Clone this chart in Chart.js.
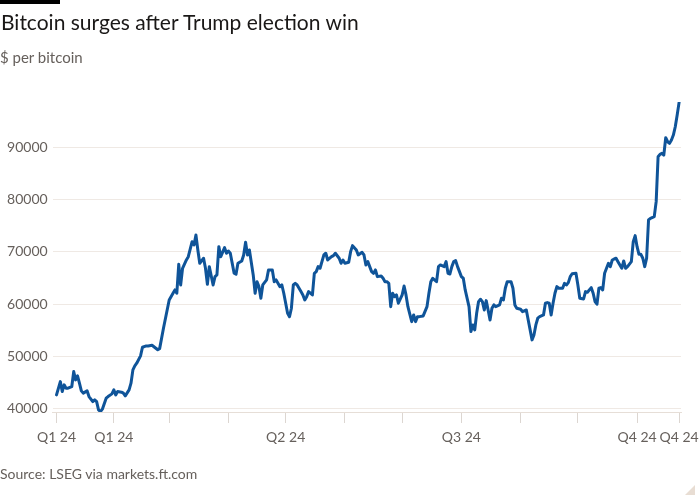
<!DOCTYPE html>
<html>
<head>
<meta charset="utf-8">
<script src="https://cdn.jsdelivr.net/npm/chart.js@4.4.0/dist/chart.umd.min.js"></script>
<style>
    body { margin: 0; background: #ffffff; }
    #wrap { position: relative; width: 700px; height: 500px; overflow: hidden; font-family: 'Lato', sans-serif; }
    #wrap canvas { position: absolute; left: 0; top: 0; }
    .bar { position: absolute; left: 0; top: 0; width: 60px; height: 4px; background: #000; }
    .title { position: absolute; left: 1px; top: 9px; font-size: 21px; line-height: 26px; color: #1a1817; white-space: nowrap; }
    .subtitle { position: absolute; left: 0; top: 47px; font-size: 15px; line-height: 20px; color: #66605c; }
    .source { position: absolute; left: 0; top: 465px; font-size: 14px; line-height: 18px; color: #66605c; }
    .curl { position: absolute; right: 5px; bottom: 5px; width: 0; height: 0; border-left: 10px solid transparent; border-bottom: 10px solid #e8ddd3; }
</style>
</head>
<body>
<div id="wrap">
    <canvas id="btcChart" width="700" height="500"></canvas>
    <div class="bar"></div>
    <div class="title">Bitcoin surges after Trump election win</div>
    <div class="subtitle">$ per bitcoin</div>
    <div class="source">Source: LSEG via markets.ft.com</div>
    <div class="curl"></div>
</div>
<script>
// day of 2024 (1 Jan = 0) and closing price in $
const days = [1, 3, 4, 5, 6, 7, 9, 10, 11, 12, 13, 14, 15, 17, 18, 20, 21, 22, 23, 24, 25, 27, 28, 30, 31, 32, 33, 35, 36, 37, 39, 40,
    41, 42, 43, 45, 46, 48, 49, 51, 53, 54, 55, 57, 60, 62, 63, 64, 65, 66, 67, 69, 70, 72, 73, 74, 75, 76, 78, 79, 80,
    81, 83, 84, 85, 86, 87, 89, 90, 91, 92, 94, 95, 96, 98, 99, 100, 101, 102, 104, 105, 106, 107, 108, 109, 111, 112,
    114, 115, 116, 118, 119, 120, 122, 123, 124, 125, 126, 127, 129, 130, 131, 132, 133, 135, 136, 137, 138, 139, 141,
    142, 143, 145, 146, 147, 149, 150, 151, 152, 154, 155, 156, 158, 159, 161, 162, 163, 164, 166, 167, 168, 169, 171,
    172, 173, 174, 175, 176, 177, 178, 179, 180, 182, 183, 184, 185, 187, 188, 189, 190, 191, 193, 195, 196, 197, 198,
    200, 201, 202, 204, 205, 206, 207, 208, 209, 210, 211, 213, 214, 215, 217, 218, 219, 220, 221, 222, 223, 224, 225,
    226, 227, 228, 229, 230, 231, 233, 234, 235, 236, 237, 239, 240, 241, 242, 244, 245, 247, 248, 249, 250, 251, 252,
    253, 254, 256, 257, 258, 259, 260, 261, 262, 263, 264, 266, 267, 268, 269, 270, 271, 273, 274, 275, 277, 278, 279,
    281, 282, 283, 284, 285, 286, 287, 288, 289, 290, 291, 292, 293, 294, 295, 296, 297, 298, 299, 300, 302, 303, 304,
    305, 306, 307, 308, 309, 310, 311, 312, 314, 315, 316, 317, 318, 319, 320, 321, 322, 323, 324, 325, 326, 327];
const prices = [42670, 45200, 43300, 44580, 43950, 43950, 44260, 47120, 45530, 46300, 44900, 43440, 43000, 43440, 42350,
    41390, 41720, 41390, 39800, 39480, 39940, 42040, 42350, 42860, 43630, 42670, 43300, 43190, 43000, 42480, 43630, 44900,
    47440, 48200, 48720, 50110, 51770, 52020, 52020, 52150, 51580, 51300, 51500, 55400, 60800, 62080, 62710, 62080, 67610,
    63660, 66850, 68430, 69060, 71930, 71300, 73200, 70340, 67800, 68760, 66850, 63800, 67160, 63660, 65250, 65570, 70980,
    69060, 70790, 69720, 70150, 69720, 65890, 65700, 67800, 68240, 69390, 71810, 69390, 70340, 65570, 62080, 64290, 63340,
    61130, 63660, 64620, 66530, 66530, 64290, 64620, 63340, 63660, 62080, 58260, 57610, 59220, 63660, 63980, 63660, 62390,
    61760, 60800, 61430, 62390, 61760, 65890, 66210, 67160, 66850, 69390, 69720, 68430, 69060, 69260, 69720, 68760, 67800,
    68430, 67800, 68000, 70020, 71170, 70340, 69390, 69900, 69390, 67480, 68110, 66210, 65890, 66530, 65250, 65380, 64940,
    64290, 64290, 63980, 59520, 62080, 61430, 61760, 60170, 61760, 63470, 61760, 59520, 56660, 57940, 56660, 57610, 57610,
    57750, 59520, 62080, 64290, 64940, 64290, 67160, 67480, 67160, 68110, 65890, 65760, 67160, 68110, 68300, 67160, 65250,
    64940, 62710, 59520, 54750, 56030, 55080, 58260, 60480, 60930, 60480, 58890, 60670, 58890, 56980, 59220, 59850, 59520,
    59850, 61130, 60800, 63030, 64290, 64290, 63030, 59850, 59220, 59030, 58570, 58890, 56980, 55080, 53170, 54120, 56030,
    57310, 57610, 57940, 60170, 60290, 60170, 57940, 60170, 62080, 63340, 63030, 63030, 63980, 63660, 64100, 65250, 65800,
    65890, 63660, 61130, 60990, 62390, 62270, 63150, 62080, 60480, 59980, 63030, 63150, 62710, 65890, 66850, 67800, 67160,
    68430, 68620, 68760, 68110, 67480, 66850, 68240, 66850, 67160, 68110, 71930, 73080, 70980, 69520, 69520, 68760, 67160,
    68760, 76070, 76390, 76700, 79570, 88150, 88610, 88800, 88470, 91780, 91010, 90700, 91340, 92290, 93880, 96110, 98530];

// month starts plus first and last day of the series
const tickDays = [1, 31, 60, 91, 121, 152, 182, 213, 244, 274, 305, 327];
const tickLabels = ['Q1 24', 'Q1 24', '', '', 'Q2 24', '', '', 'Q3 24', '', '', 'Q4 24', 'Q4 24'];
const yTicks = [40000, 50000, 60000, 70000, 80000, 90000];

document.addEventListener('DOMContentLoaded', function() {
    const ctx = document.getElementById('btcChart').getContext('2d');
    const grey = '#66605c';
    const tickFont = { family: 'Lato', size: 14 };

    new Chart(ctx, {
        type: 'line',
        data: {
            datasets: [{
                label: 'Bitcoin',
                data: days.map((d, i) => ({ x: d, y: prices[i] })),
                borderColor: '#0f5499',
                borderWidth: 3,
                borderJoinStyle: 'round',
                borderCapStyle: 'round',
                pointRadius: 0,
                tension: 0
            }]
        },
        options: {
            responsive: false,
            animation: false,
            devicePixelRatio: 1,
            layout: {
                padding: { top: 102, right: 19, bottom: 48, left: 0 }
            },
            plugins: {
                legend: { display: false },
                tooltip: { enabled: false }
            },
            scales: {
                x: {
                    type: 'linear',
                    min: -1,
                    max: 328,
                    afterBuildTicks: function(scale) {
                        scale.ticks = tickDays.map(v => ({ value: v }));
                    },
                    afterFit: function(scale) {
                        scale.height = 40;
                        // labels may hang over the edges, keep the plot width fixed
                        scale.paddingLeft = 0;
                        scale.paddingRight = 0;
                    },
                    grid: {
                        drawOnChartArea: false,
                        drawTicks: true,
                        tickLength: 11,
                        color: '#dcd6d1'
                    },
                    border: { display: true, color: '#e6ded7', width: 1 },
                    ticks: {
                        autoSkip: false,
                        maxRotation: 0,
                        padding: 6,
                        color: grey,
                        font: tickFont,
                        callback: function(value, index) {
                            return tickLabels[index];
                        }
                    }
                },
                y: {
                    min: 39400,
                    max: 98600,
                    afterBuildTicks: function(scale) {
                        scale.ticks = yTicks.map(v => ({ value: v }));
                    },
                    afterFit: function(scale) {
                        scale.width = 52.7;
                    },
                    grid: {
                        drawTicks: false,
                        color: '#efe9e4'
                    },
                    border: { display: false },
                    ticks: {
                        padding: 5,
                        color: grey,
                        font: tickFont,
                        callback: function(value) {
                            return String(value);
                        }
                    }
                }
            }
        }
    });
});
</script>
</body>
</html>
